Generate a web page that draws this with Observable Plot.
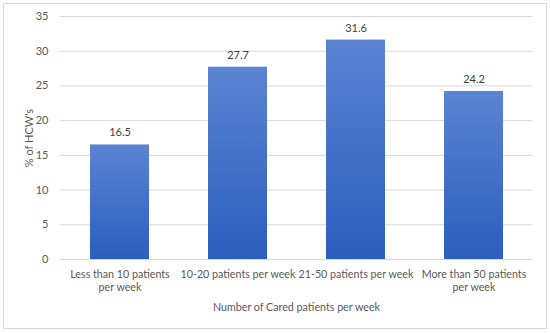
<!DOCTYPE html>
<html>
<head>
<meta charset="utf-8">
<script src="https://cdn.jsdelivr.net/npm/d3@7"></script>
<script src="https://cdn.jsdelivr.net/npm/@observablehq/plot@0.6"></script>
<style>
  html, body { margin: 0; padding: 0; background: #fff; }
  #wrap { position: relative; width: 550px; height: 333px; overflow: hidden; }
  #frame { position: absolute; left: 3px; top: 3px; width: 542px; height: 324px; border: 1px solid #d9d9d9; }
  #chart { position: absolute; left: 0; top: 0; }
</style>
</head>
<body>
<div id="wrap"><div id="frame"></div><div id="chart"></div></div>
<script>
const categories = ["Less than 10 patients per week", "10-20 patients per week", "21-50 patients per week", "More than 50 patients per week"];
const tickLabels = ["Less than 10 patients\nper week", "10-20 patients per week", "21-50 patients per week", "More than 50 patients\nper week"];
const values = [16.5, 27.7, 31.6, 24.2];
const yTicks = [0, 5, 10, 15, 20, 25, 30, 35];

const data = categories.map((c, i) => ({category: c, value: values[i]}));
const labelOf = new Map(categories.map((c, i) => [c, tickLabels[i]]));

const font = "Lato, 'Open Sans', sans-serif";

const plot = Plot.plot({
  width: 550,
  height: 333,
  marginLeft: 60,
  marginRight: 18,
  marginTop: 16,
  marginBottom: 74,
  style: {fontFamily: font, fontSize: "11px", color: "#595959", background: "transparent"},
  x: {domain: categories, paddingInner: 0.5, paddingOuter: 0.25, align: 0.5},
  y: {domain: [0, 35]},
  marks: [
    Plot.gridY(yTicks, {stroke: "#d9d9d9", strokeOpacity: 1}),
    Plot.barY(data, {x: "category", y: "value", fill: "#4472c4"}),
    Plot.text(data, {x: "category", y: "value", text: d => d.value.toFixed(1), dy: -12, fill: "#404040", fontSize: 11}),
    Plot.axisY(yTicks, {tickSize: 0, tickPadding: 12, label: "% of HCW's", labelAnchor: "center", labelOffset: 35, labelArrow: "none", fontSize: 11}),
    Plot.axisX({tickSize: 0, tickPadding: 9, tickFormat: d => labelOf.get(d), lineHeight: 1.25, label: "Number of Cared patients per week", labelAnchor: "center", labelOffset: 51, labelArrow: "none", fontSize: 10.7})
  ]
});

// vertical gradient for bars
const ns = "http://www.w3.org/2000/svg";
const defs = document.createElementNS(ns, "defs");
const grad = document.createElementNS(ns, "linearGradient");
grad.setAttribute("id", "barGrad");
grad.setAttribute("x1", "0"); grad.setAttribute("y1", "0");
grad.setAttribute("x2", "0"); grad.setAttribute("y2", "1");
[["0%", "#5b84d2"], ["100%", "#2c5ebf"]].forEach(([o, c]) => {
  const s = document.createElementNS(ns, "stop");
  s.setAttribute("offset", o); s.setAttribute("stop-color", c);
  grad.appendChild(s);
});
defs.appendChild(grad);
plot.insertBefore(defs, plot.firstChild);
plot.querySelectorAll("rect").forEach(r => {
  if (r.getAttribute("fill") === "#4472c4") r.setAttribute("fill", "url(#barGrad)");
});
plot.querySelectorAll("g[fill='#4472c4']").forEach(g => g.setAttribute("fill", "url(#barGrad)"));

document.getElementById("chart").appendChild(plot);
</script>
</body>
</html>
